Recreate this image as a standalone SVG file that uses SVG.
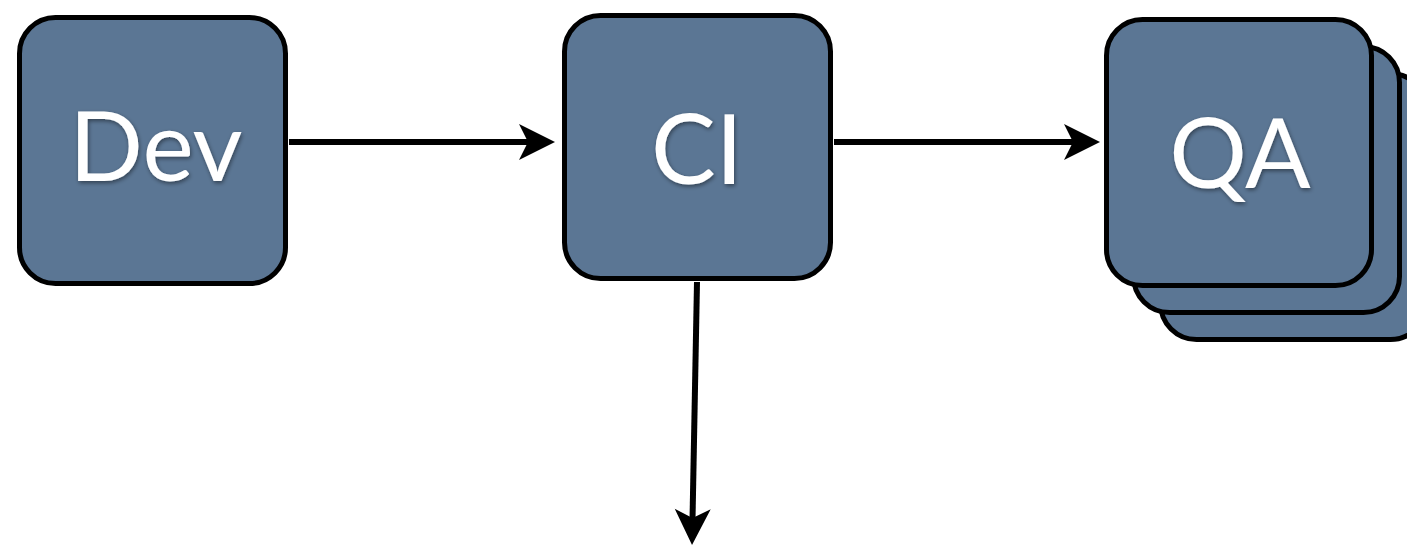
<svg xmlns="http://www.w3.org/2000/svg" width="1407" height="546" viewBox="0 0 1407 546">
  <style>
    .box { fill: #5b7694; stroke: #000; stroke-width: 5; }
    .label { font-family: Lato, "Noto Sans", "Liberation Sans", sans-serif; font-size: 97px; fill: #ffffff; text-anchor: middle; filter: url(#shadow); }
    .conn { stroke: #000; stroke-width: 6; fill: none; marker-end: url(#arrow); }
  </style>
  <defs>
    <filter id="shadow" x="-20%" y="-20%" width="140%" height="140%">
      <feDropShadow dx="1" dy="2" stdDeviation="2" flood-color="#000" flood-opacity="0.45"/>
    </filter>
    <marker id="arrow" viewBox="-37 -19 38 38" markerWidth="38" markerHeight="38" refX="-25" refY="0" orient="auto" markerUnits="userSpaceOnUse">
      <path d="M0,0 L-36,-18 L-27,0 L-36,18 Z" fill="#000"/>
    </marker>
  </defs>
  <rect width="1407" height="546" fill="#ffffff"/>
  <g id="connectors">
    <line class="conn" x1="289" y1="142" x2="530" y2="142"/>
    <line class="conn" x1="834" y1="142" x2="1075" y2="142"/>
    <line class="conn" x1="697" y1="282" x2="692.5" y2="520"/>
  </g>
  <g id="dev">
    <rect class="box" x="19.5" y="17.5" width="266" height="266" rx="36"/>
    <text class="label" x="156" y="181">Dev</text>
  </g>
  <g id="ci">
    <rect class="box" x="564.5" y="15.5" width="266" height="263" rx="36"/>
    <text class="label" x="697" y="184">CI</text>
  </g>
  <g id="qa">
    <rect class="box" x="1160.5" y="73.5" width="266" height="266" rx="36"/>
    <rect class="box" x="1133.5" y="46.5" width="266" height="266" rx="36"/>
    <rect class="box" x="1106.5" y="19.5" width="265" height="266" rx="36"/>
    <text class="label" x="1240" y="188">QA</text>
  </g>
</svg>
